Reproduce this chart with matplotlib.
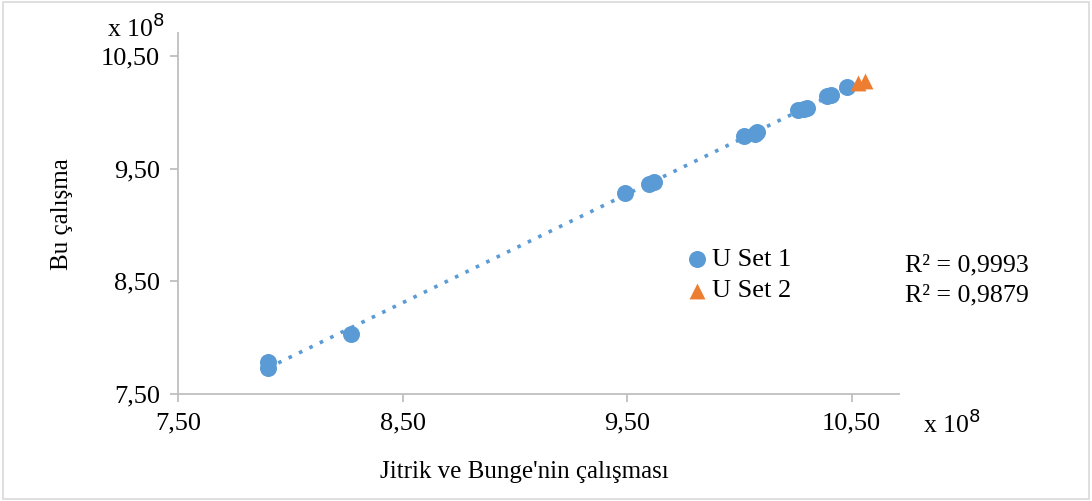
# Scatter of U Set 1 / U Set 2 against Jitrik ve Bunge values

import numpy as np
import matplotlib.pyplot as plt
from matplotlib.ticker import FuncFormatter
from matplotlib.patches import Rectangle

# values in units of 1e8
set1_x = [7.90, 7.90, 8.27, 9.49, 9.60, 9.62, 10.02, 10.07, 10.08, 10.26, 10.29, 10.30, 10.39, 10.41, 10.48]
set1_y = [7.78, 7.73, 8.03, 9.28, 9.36, 9.38, 9.79, 9.81, 9.82, 10.02, 10.03, 10.04, 10.14, 10.15, 10.22]
set2_x = [10.53, 10.56]
set2_y = [10.26, 10.28]
r2_labels = ["R² = 0,9993", "R² = 0,9879"]

blue = "#5b9bd5"
orange = "#ed7d31"
grey = "#bfbfbf"

plt.rcParams['font.family'] = ['Liberation Serif', 'DejaVu Serif']

fig = plt.figure(figsize=(10.92, 5.01), dpi=100)
ax = fig.add_axes([0.163, 0.2136, 0.66, 0.72])

# trend line for set 1
k, b = np.polyfit(set1_x, set1_y, 1)
tx = np.array([min(set1_x), max(set1_x)])
ax.plot(tx, k * tx + b, linestyle=(0, (1, 2.2)), color=blue, linewidth=2.6, zorder=2)

ax.scatter(set1_x, set1_y, s=150, color=blue, label="U Set 1", zorder=3, linewidths=0)
ax.scatter(set2_x, set2_y, s=130, color=orange, marker="^", label="U Set 2", zorder=3, linewidths=0)

ax.set_xlim(7.5, 10.71)
ax.set_ylim(7.5, 10.7)
ax.set_xticks([7.5, 8.5, 9.5, 10.5])
ax.set_yticks([7.5, 8.5, 9.5, 10.5])
fmt = FuncFormatter(lambda v, p: f"{v:.2f}".replace(".", ","))
ax.xaxis.set_major_formatter(fmt)
ax.yaxis.set_major_formatter(fmt)

for s in ["top", "right"]:
    ax.spines[s].set_visible(False)
for s in ["left", "bottom"]:
    ax.spines[s].set_color(grey)
    ax.spines[s].set_linewidth(1.3)
ax.tick_params(length=6, width=1.3, color=grey, labelsize=19, pad=7)

ax.set_xlabel("Jitrik ve Bunge'nin çalışması", fontsize=18)
ax.xaxis.set_label_coords(0.48, -0.185)
ax.set_ylabel("Bu çalışma", fontsize=18, labelpad=20)

fig.text(0.845, 0.155, "x 10$^8$", fontsize=18.5, ha="left", va="center")
fig.text(0.098, 0.945, "x 10$^8$", fontsize=18.5, ha="left", va="center")

leg = ax.legend(loc="upper left", bbox_to_anchor=(0.683, 0.435), frameon=False, fontsize=19,
                handletextpad=0.0, labelspacing=0.3, borderaxespad=0, markerscale=1.0,
                handlelength=1.2)

fig.text(0.829, 0.47, r2_labels[0], fontsize=18.6, ha="left", va="center")
fig.text(0.829, 0.41, r2_labels[1], fontsize=18.6, ha="left", va="center")

fig.patches.append(Rectangle((0.003, 0.003), 0.994, 0.994, transform=fig.transFigure,
                             fill=False, edgecolor="#d9d9d9", linewidth=1.2))

plt.savefig("out.png", dpi=100)
